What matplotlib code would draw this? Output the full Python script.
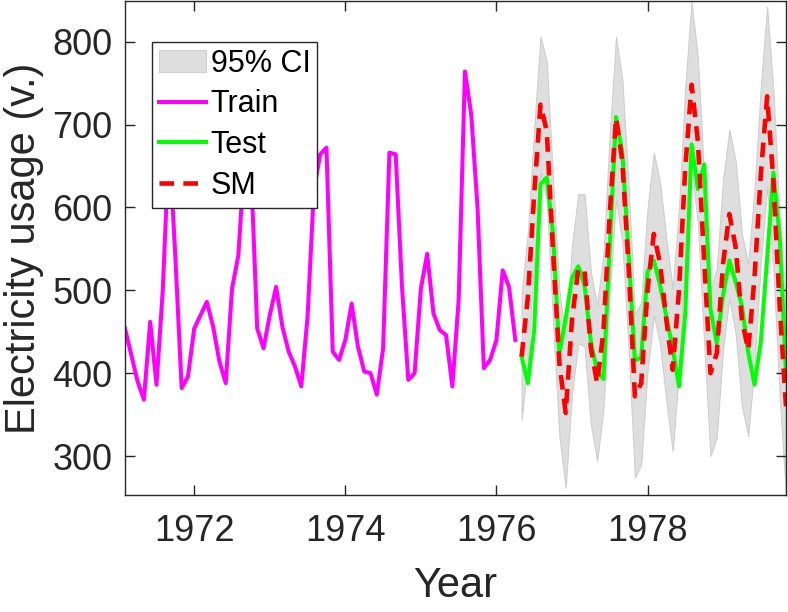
import numpy as np
import matplotlib
matplotlib.use("Agg")
import matplotlib.pyplot as plt

plt.rcParams['font.family'] = ['Liberation Sans', 'DejaVu Sans']

# Monthly index: months counted from Jan 1971 (month 1 = Feb 1971)
train_months = list(range(1, 64))
test_months = list(range(64, 107))

train_values = [454, 422, 390, 368, 462, 386, 500, 680, 540, 382,
                396, 454, 470, 486, 456, 414, 388, 502, 542, 660,
                650, 454, 430, 470, 504, 456, 426, 408, 384, 468,
                620, 664, 672, 426, 416, 440, 484, 432, 402, 400,
                374, 430, 666, 664, 504, 392, 400, 502, 544, 472,
                452, 446, 384, 488, 764, 712, 600, 406, 416, 440,
                524, 504, 440]

test_values = [420, 388, 452, 628, 636, 568, 424, 466, 515, 529,
               506, 438, 402, 393, 552, 709, 666, 544, 415, 419,
               522, 536, 506, 468, 430, 384, 472, 676, 622, 652,
               477, 436, 494, 536, 510, 481, 425, 386, 438, 538,
               642, 564, 400]

sm_values = [420, 492, 616, 724, 692, 546, 412, 352, 464, 526,
             524, 430, 388, 450, 592, 708, 656, 528, 372, 388,
             500, 568, 532, 464, 404, 500, 648, 748, 680, 536,
             400, 424, 532, 592, 552, 464, 428, 516, 640, 734,
             632, 480, 360]

ci_upper = [496, 570, 696, 806, 776, 632, 500, 442, 554, 616,
            616, 522, 482, 544, 688, 806, 754, 626, 470, 486,
            598, 666, 630, 562, 502, 598, 746, 848, 780, 636,
            500, 526, 634, 694, 656, 568, 532, 622, 746, 842,
            740, 588, 468]

ci_lower = [344, 414, 536, 642, 608, 460, 324, 262, 374, 436,
            432, 338, 294, 356, 496, 610, 558, 430, 274, 290,
            402, 470, 434, 366, 306, 402, 550, 648, 580, 436,
            300, 322, 430, 490, 448, 360, 324, 410, 534, 626,
            524, 372, 252]

x_ticks = [1972, 1974, 1976, 1978]
y_ticks = [300, 400, 500, 600, 700, 800]

x_train = 1971 + np.array(train_months) / 12.0
x_test = 1971 + np.array(test_months) / 12.0

fig = plt.figure(figsize=(7.88, 6.12), dpi=100)
ax = fig.add_axes([125/788, 1 - 495/612, (786-125)/788, (495-1)/612])

ci = ax.fill_between(x_test, ci_lower, ci_upper, facecolor='#dedede',
                     edgecolor='#cfcfcf', linewidth=0.8, label='95% CI')
l_train, = ax.plot(x_train, train_values, color='#ff00ff', lw=2.9, label='Train')
l_test, = ax.plot(x_test, test_values, color='#00ff00', lw=2.9, label='Test')
l_sm, = ax.plot(x_test, sm_values, color='#ff0000', lw=3.3, ls=(0, (3.2, 2.0)), label='SM')

ax.set_xlim(1971 + 1/12, 1971 + 106/12)
ax.set_ylim(253, 849)
ax.set_xticks(x_ticks)
ax.set_xticklabels([str(t) for t in x_ticks])
ax.set_yticks(y_ticks)

ax.tick_params(direction='in', length=7, width=1, colors='#262626',
               labelsize=26, top=True, right=True)
ax.tick_params(axis='x', pad=14)
ax.tick_params(axis='y', pad=9)
for s in ax.spines.values():
    s.set_color('#262626')
    s.set_linewidth(1.0)

ax.set_xlabel('Year', fontsize=30, color='#262626', labelpad=12)
ax.set_ylabel('Electricity usage (v.)', fontsize=30, color='#262626', labelpad=6)

leg = ax.legend(handles=[ci, l_train, l_test, l_sm], loc='upper left',
                bbox_to_anchor=((152-125)/661, 1 - 41/494), fontsize=22,
                frameon=True, fancybox=False, framealpha=1, edgecolor='#262626',
                borderpad=0.22, labelspacing=0.35, handlelength=1.55,
                handletextpad=0.15, borderaxespad=0)
leg.get_frame().set_linewidth(1.0)

fig.savefig('out.png', dpi=100)
